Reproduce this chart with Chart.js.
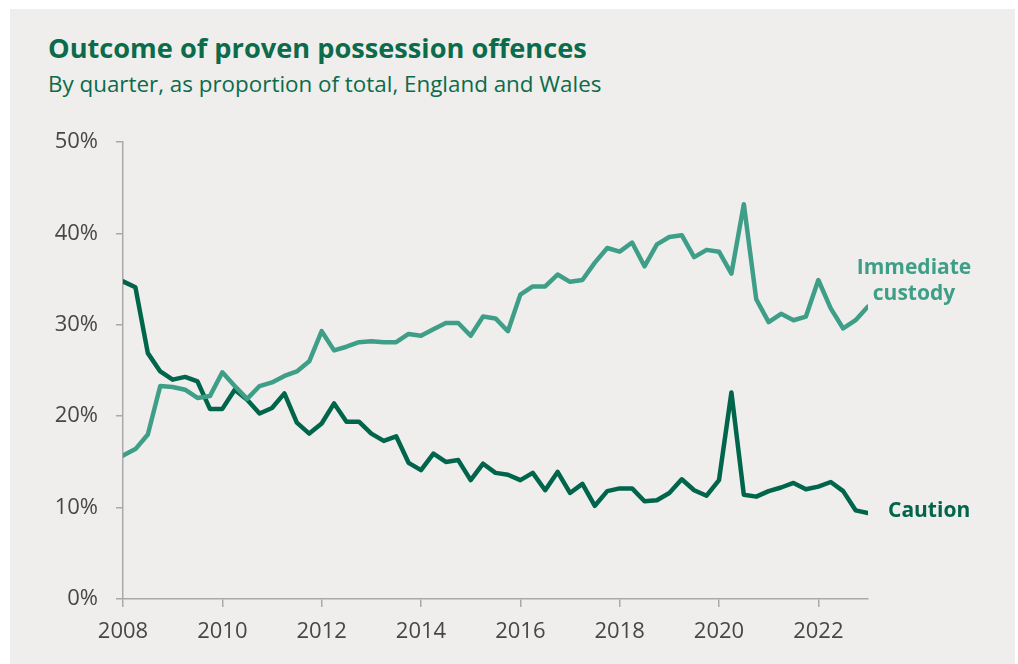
<!DOCTYPE html>
<html>
<head>
<meta charset="utf-8">
<script src="https://cdn.jsdelivr.net/npm/chart.js@4"></script>
<style>
  html, body { margin: 0; padding: 0; background: #fff; }
  body { width: 1018px; height: 664px; position: relative; overflow: hidden; }
  #panel { position: absolute; left: 10px; top: 9px; width: 1005px; height: 655px; background: #efeeec; }
  #title { position: absolute; left: 48px; top: 34px; font: bold 27.2px 'Open Sans', sans-serif; color: #0b6b4b; line-height: 1; white-space: nowrap; }
  #subtitle { position: absolute; left: 48px; top: 73px; font: 22.4px 'Open Sans', sans-serif; color: #0b6b4b; line-height: 1; white-space: nowrap; }
  #chart { position: absolute; left: 0; top: 0; }
</style>
</head>
<body>
<div id="panel"></div>
<div id="title">Outcome of proven possession offences</div>
<div id="subtitle">By quarter, as proportion of total, England and Wales</div>
<canvas id="chart" width="1018" height="664"></canvas>
<script>
// quarterly series, 2008 Q1 .. 2023 Q1 (%)
const startYear = 2008;
const yearTicks = [2008, 2010, 2012, 2014, 2016, 2018, 2020, 2022];
const percentTicks = [0, 10, 20, 30, 40, 50];

const custody = [
  15.7, 16.4, 18.0, 23.3, 23.2, 22.9, 22.0, 22.2, 24.8, 23.3,
  21.9, 23.3, 23.7, 24.4, 24.9, 26.0, 29.3, 27.2, 27.6, 28.1,
  28.2, 28.1, 28.1, 29.0, 28.8, 29.5, 30.2, 30.2, 28.8, 30.9,
  30.7, 29.3, 33.3, 34.2, 34.2, 35.5, 34.7, 34.9, 36.8, 38.4,
  38.0, 39.0, 36.4, 38.8, 39.6, 39.8, 37.4, 38.2, 38.0, 35.6,
  43.2, 32.8, 30.3, 31.2, 30.5, 30.9, 34.9, 31.8, 29.6, 30.5,
  32.0
];
const caution = [
  34.75, 34.1, 26.9, 24.9, 24.0, 24.3, 23.8, 20.8, 20.8, 22.9,
  21.8, 20.3, 20.9, 22.5, 19.3, 18.1, 19.2, 21.4, 19.4, 19.4,
  18.1, 17.3, 17.8, 14.9, 14.1, 15.9, 15.0, 15.2, 13.0, 14.8,
  13.8, 13.6, 13.0, 13.8, 11.9, 13.9, 11.6, 12.6, 10.2, 11.8,
  12.1, 12.1, 10.7, 10.8, 11.6, 13.1, 11.9, 11.3, 13.0, 22.6,
  11.4, 11.2, 11.8, 12.2, 12.7, 12.0, 12.3, 12.8, 11.8, 9.7,
  9.4
];

const custodyColor = '#3f9e87';
const cautionColor = '#00654a';
const axisColor = '#a9a9a9';
const tickFont = { family: "'Open Sans', sans-serif", size: 22 };

const toPoints = arr => arr.map((v, i) => ({ x: startYear + i / 4, y: v }));

// labels at the line ends
const endLabels = {
  id: 'endLabels',
  afterDatasetsDraw(chart) {
    const { ctx, scales: { x, y } } = chart;
    const last = caution.length - 1;
    const px = x.getPixelForValue(startYear + last / 4);
    ctx.save();
    ctx.font = "bold 21px 'Open Sans', sans-serif";
    ctx.textBaseline = 'alphabetic';

    ctx.fillStyle = cautionColor;
    ctx.textAlign = 'left';
    ctx.fillText('Caution', px + 20, y.getPixelForValue(caution[last]) + 4);

    const cy = y.getPixelForValue(custody[last]);
    ctx.fillStyle = custodyColor;
    ctx.textAlign = 'center';
    ctx.fillText('Immediate', px + 46, cy - 33);
    ctx.fillText('custody', px + 46, cy - 7);
    ctx.restore();
  }
};

const lineStyle = { borderWidth: 4.5, pointRadius: 0, tension: 0, borderJoinStyle: 'round', borderCapStyle: 'round' };

new Chart(document.getElementById('chart'), {
  type: 'line',
  data: {
    datasets: [
      { label: 'Immediate custody', data: toPoints(custody), borderColor: custodyColor, ...lineStyle },
      { label: 'Caution', data: toPoints(caution), borderColor: cautionColor, ...lineStyle }
    ]
  },
  plugins: [endLabels],
  options: {
    responsive: false,
    animation: false,
    layout: { padding: { top: 142, right: 150, left: 0, bottom: 0 } },
    plugins: { legend: { display: false }, tooltip: { enabled: false } },
    scales: {
      x: {
        type: 'linear',
        min: 2008,
        max: 2023,
        afterBuildTicks: axis => { axis.ticks = yearTicks.map(v => ({ value: v })); },
        afterFit: scale => { scale.height = 65; },
        border: { display: true, color: axisColor, width: 1.5 },
        grid: { drawOnChartArea: false, drawTicks: true, tickLength: 8, color: axisColor, lineWidth: 1.5 },
        ticks: { color: '#474747', font: tickFont, padding: 12, maxRotation: 0, callback: v => String(v) }
      },
      y: {
        min: 0,
        max: 50,
        afterBuildTicks: axis => { axis.ticks = percentTicks.map(v => ({ value: v })); },
        afterFit: scale => { scale.width = 123; },
        border: { display: true, color: axisColor, width: 1.5 },
        grid: { drawOnChartArea: false, drawTicks: true, tickLength: 7, color: axisColor, lineWidth: 1.5 },
        ticks: { color: '#474747', font: tickFont, padding: 18, callback: v => v + '%' }
      }
    }
  }
});
</script>
</body>
</html>
